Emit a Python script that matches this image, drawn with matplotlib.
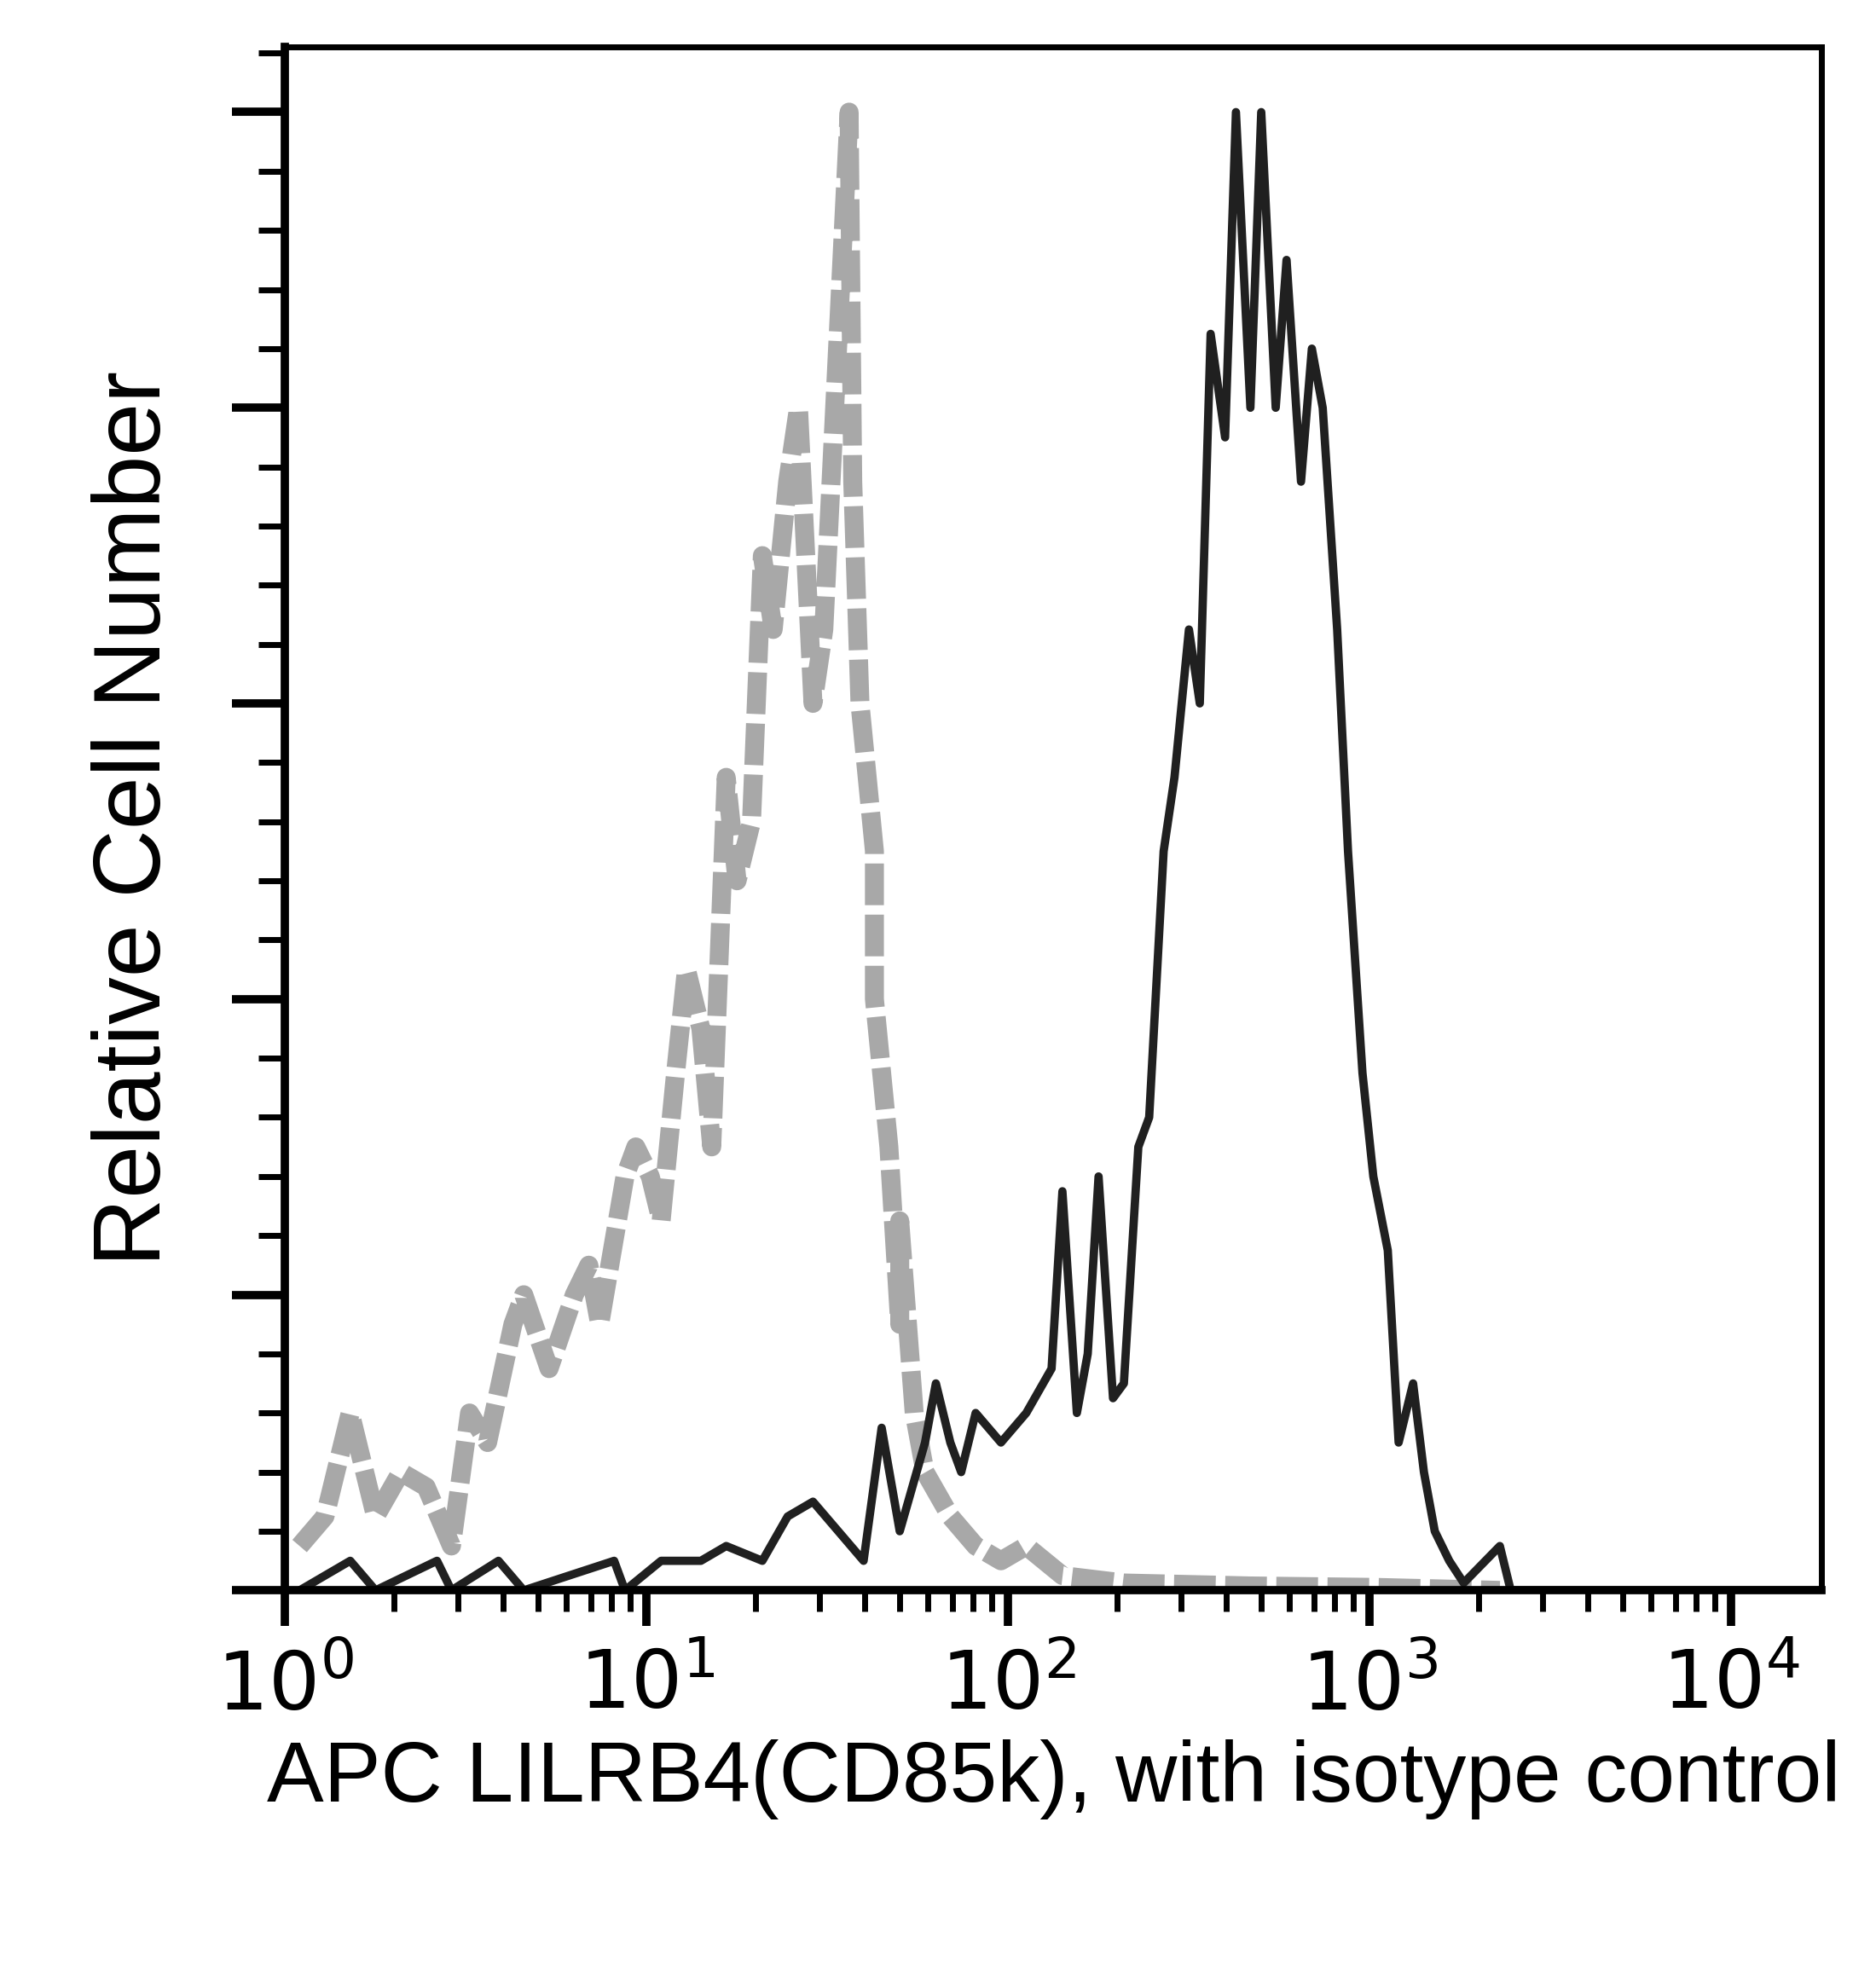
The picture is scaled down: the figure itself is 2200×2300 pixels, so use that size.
import numpy as np
import matplotlib.pyplot as plt
from matplotlib.ticker import LogLocator, MultipleLocator, NullFormatter

plt.rcParams['font.family'] = ['Liberation Sans', 'DejaVu Sans']

# isotype control (gray), log10 of fluorescence vs relative count
iso_log = [0.04, 0.11, 0.18, 0.25, 0.32, 0.39, 0.46, 0.51, 0.56, 0.63, 0.66, 0.73, 0.80,
           0.84, 0.87, 0.94, 0.97, 1.01, 1.04, 1.08, 1.11, 1.15, 1.18, 1.22, 1.25, 1.29,
           1.32, 1.35, 1.39, 1.42, 1.46, 1.49, 1.53, 1.56, 1.57, 1.59, 1.63, 1.63, 1.67,
           1.70, 1.70, 1.74, 1.77, 1.84, 1.91, 1.98, 2.05, 2.15, 2.32, 2.67, 3.02, 3.36]
iso_y = [3, 5, 12, 5, 8, 7, 3, 12, 10, 18, 20, 15, 20, 22, 18, 28, 30, 28, 25, 35, 42,
         38, 30, 55, 48, 52, 70, 65, 75, 80, 60, 65, 85, 100, 75, 60, 50, 40, 30, 18, 25,
         12, 8, 5, 3, 2, 3, 1, 0.5, 0.3, 0.2, 0]

# LILRB4 stained sample (black)
smp_log = [0.04, 0.18, 0.25, 0.42, 0.46, 0.59, 0.66, 0.91, 0.94, 1.04, 1.15, 1.22, 1.32,
           1.39, 1.46, 1.53, 1.60, 1.65, 1.70, 1.77, 1.80, 1.84, 1.87, 1.91, 1.98, 2.05,
           2.12, 2.15, 2.19, 2.22, 2.25, 2.29, 2.32, 2.36, 2.39, 2.43, 2.46, 2.50, 2.53,
           2.56, 2.60, 2.63, 2.67, 2.70, 2.74, 2.77, 2.81, 2.84, 2.87, 2.91, 2.94, 2.98,
           3.01, 3.05, 3.08, 3.12, 3.15, 3.18, 3.22, 3.26, 3.36, 3.39, 3.70, 4.25]
smp_y = [0, 2, 0, 2, 0, 2, 0, 2, 0, 2, 2, 3, 2, 5, 6, 4, 2, 11, 4, 10, 14, 10, 8, 12,
         10, 12, 15, 27, 12, 16, 28, 13, 14, 30, 32, 50, 55, 65, 60, 85, 78, 100, 80,
         100, 80, 90, 75, 84, 80, 65, 50, 35, 28, 23, 10, 14, 8, 4, 2, 0.5, 3, 0, 0, 0]

fig = plt.figure(figsize=(22, 23), dpi=100)
ax = fig.add_axes([0.152, 0.189, 0.819, 0.787])

ax.plot(10 ** np.array(iso_log), iso_y, color='#a8a8a8', lw=16, ls=(0, (2.2, 0.5)))
ax.plot(10 ** np.array(smp_log), smp_y, color='#202020', lw=7)

ax.set_xscale('log')
ax.set_xlim(1, 10 ** 4.25)
ax.set_ylim(0, 104.4)

ax.xaxis.set_minor_locator(LogLocator(base=10, subs=np.arange(2, 10), numticks=20))
ax.xaxis.set_minor_formatter(NullFormatter())
ax.set_xticks([1, 10, 100, 1000, 10000])
ax.set_xticklabels(['$10^0$', '$10^1$', '$10^2$', '$10^3$', '$10^4$'])
ax.yaxis.set_major_locator(MultipleLocator(20))
ax.yaxis.set_minor_locator(MultipleLocator(4))
ax.set_yticklabels([])

ax.tick_params(axis='both', which='major', direction='out', length=45, width=7, labelsize=68)
ax.tick_params(axis='both', which='minor', direction='out', length=22, width=5)
ax.tick_params(axis='x', which='major', length=30, pad=20)
ax.tick_params(axis='x', which='minor', length=18)
for s in ax.spines.values():
    s.set_linewidth(5)
ax.spines['bottom'].set_linewidth(7)
ax.spines['left'].set_linewidth(7)

ax.set_xlabel('APC LILRB4(CD85k), with isotype control', fontsize=72, labelpad=10)
ax.set_ylabel('Relative Cell Number', fontsize=80, labelpad=40)

fig.savefig('out.png')
